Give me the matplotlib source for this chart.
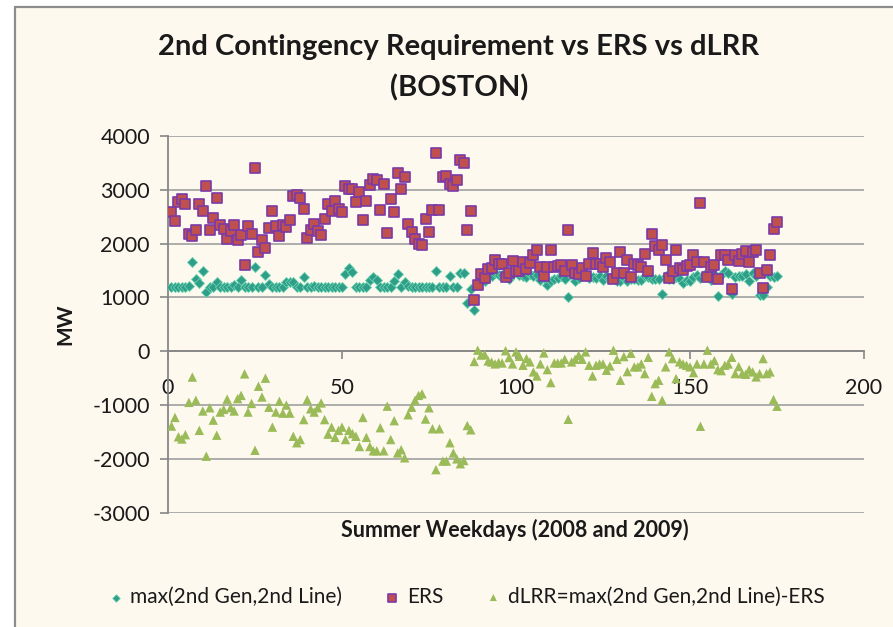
import matplotlib
matplotlib.use("Agg")
import matplotlib.pyplot as plt
import matplotlib.patches as patches
import numpy as np

# ── Data ─────────────────────────────────────────────────────────────────────
days = list(range(1, 176))

max_gen_line = [
    1200, 1200, 1200, 1200, 1200, 1210, 1650, 1340, 1260, 1490,
    1100, 1200, 1200, 1290, 1200, 1200, 1200, 1200, 1240, 1200,
    1330, 1200, 1200, 1200, 1560, 1200, 1200, 1410, 1250, 1200,
    1200, 1200, 1200, 1290, 1290, 1290, 1200, 1200, 1380, 1200,
    1200, 1220, 1200, 1200, 1200, 1200, 1200, 1200, 1200, 1200,
    1430, 1540, 1480, 1200, 1200, 1200, 1200, 1320, 1380, 1330,
    1200, 1200, 1200, 1200, 1300, 1430, 1200, 1290, 1220, 1200,
    1200, 1200, 1200, 1200, 1200, 1200, 1490, 1200, 1200, 1200,
    1400, 1200, 1200, 1460, 1450, 900, 1150, 760, 1250, 1340,
    1300, 1380, 1390, 1450, 1410, 1410, 1380, 1350, 1440, 1480,
    1410, 1400, 1380, 1440, 1400, 1420, 1330, 1360, 1230, 1300,
    1350, 1360, 1390, 1350, 1000, 1410, 1310, 1360, 1400, 1390,
    1370, 1380, 1370, 1390, 1330, 1390, 1370, 1360, 1310, 1310,
    1360, 1310, 1340, 1340, 1320, 1330, 1390, 1380, 1340, 1350,
    1340, 1060, 1400, 1350, 1350, 1380, 1350, 1270, 1320, 1310,
    1380, 1420, 1370, 1410, 1400, 1330, 1440, 1030, 1420, 1490,
    1450, 1060, 1380, 1390, 1400, 1440, 1310, 1460, 1400, 1050,
    1040, 1190, 1390, 1380, 1390,
]

ers = [
    2580, 2420, 2780, 2830, 2740, 2180, 2140, 2260, 2740, 2600,
    3070, 2250, 2470, 2850, 2350, 2270, 2080, 2240, 2350, 2060,
    2160, 1610, 2320, 2180, 3410, 1850, 2060, 1910, 2290, 2600,
    2320, 2140, 2340, 2310, 2430, 2880, 2910, 2850, 2640, 2100,
    2250, 2360, 2230, 2160, 2450, 2740, 2600, 2790, 2650, 2590,
    3070, 3010, 3010, 2780, 2960, 2440, 2790, 3090, 3210, 3190,
    2620, 3100, 2200, 2830, 2590, 3310, 3020, 3240, 2360, 2220,
    2090, 1990, 1980, 2450, 2220, 2620, 3690, 2620, 3230, 3250,
    3100, 3080, 3190, 3550, 3490, 2260, 2610, 950, 1240, 1430,
    1370, 1530, 1550, 1690, 1620, 1630, 1380, 1460, 1670, 1490,
    1500, 1650, 1520, 1640, 1790, 1880, 1570, 1390, 1570, 1880,
    1570, 1580, 1610, 1500, 2260, 1610, 1460, 1430, 1550, 1400,
    1630, 1830, 1630, 1630, 1570, 1740, 1650, 1340, 1460, 1850,
    1460, 1690, 1380, 1630, 1610, 1570, 1800, 1490, 2180, 1950,
    1880, 1970, 1690, 1360, 1490, 1880, 1550, 1510, 1580, 1600,
    1780, 1650, 2760, 1650, 1380, 1570, 1610, 1340, 1780, 1780,
    1690, 1160, 1790, 1670, 1810, 1870, 1650, 1850, 1880, 1460,
    1170, 1510, 1780, 2280, 2410,
]

dlrr = [
    -1390, -1230, -1590, -1630, -1550, -950, -480, -910, -1470, -1110,
    -1950, -1050, -1280, -1560, -1130, -1080, -890, -1050, -1110, -880,
    -820, -420, -1130, -970, -1840, -650, -850, -500, -1040, -1410,
    -1130, -930, -1150, -1000, -1150, -1580, -1700, -1640, -1270, -900,
    -1070, -1130, -1050, -960, -1270, -1540, -1410, -1600, -1470, -1410,
    -1640, -1470, -1530, -1580, -1770, -1230, -1600, -1770, -1850, -1850,
    -1420, -1850, -1020, -1640, -1290, -1890, -1830, -1980, -1180, -1040,
    -910, -820, -790, -1260, -1050, -1440, -2200, -1440, -2040, -2040,
    -1700, -1890, -2000, -2090, -2030, -1380, -1460, -190, 20, -70,
    -60, -180, -200, -235, -210, -217, 10, -117, -235, -12,
    -93, -260, -136, -198, -384, -459, -235, -31, -341, -582,
    -217, -217, -217, -149, -1264, -198, -149, -74, -149, -12,
    -260, -459, -260, -236, -236, -353, -273, 19, -149, -539,
    -99, -378, -37, -290, -290, -236, -415, -112, -837, -601,
    -539, -911, -290, -12, -136, -508, -198, -236, -260, -290,
    -397, -236, -1394, -236, 19, -236, -174, -341, -360, -260,
    -236, -112, -415, -285, -415, -428, -341, -384, -477, -415,
    -136, -415, -384, -898, -1022,
]

y_ticks = [-3000, -2000, -1000, 0, 1000, 2000, 3000, 4000]
x_ticks = [0, 50, 100, 150, 200]

# ── Style ────────────────────────────────────────────────────────────────────
BG = "#FEF9EF"
GRID = "#A6A6A6"
AXIS = "#868686"
TEXT = "#1A1A1A"
plt.rcParams["font.family"] = ["Lato", "DejaVu Sans"]
plt.rcParams["axes.unicode_minus"] = False

W, H = 893, 627
fig = plt.figure(figsize=(W / 100, H / 100), dpi=100)
fig.patch.set_facecolor("white")

# chart-area frame (Excel style)
frame = patches.Rectangle((15 / W, -0.05), 1.1, 1 - 7 / H + 0.05,
                          transform=fig.transFigure, facecolor=BG,
                          edgecolor="#8C8C8C", lw=1.6, zorder=-5)
fig.add_artist(frame)

ax = fig.add_axes([168 / W, 1 - 512.7 / H, (864 - 168) / W, (512.7 - 136) / H])
ax.set_zorder(2)
ax.set_facecolor(BG)

ax.scatter(days, max_gen_line, marker="D", s=26, color="#2E9E88",
           edgecolors="#6BD0B0", linewidths=0.6, zorder=3,
           label="max(2nd Gen,2nd Line)")
ax.scatter(days, ers, marker="s", s=48, color="#C0504D",
           edgecolors="#7A3AA8", linewidths=1.2, zorder=4, label="ERS")
ax.scatter(days, dlrr, marker="^", s=46, color="#9BBB59",
           edgecolors="none", zorder=3,
           label="dLRR=max(2nd Gen,2nd Line)-ERS")

ax.set_xlim(0, 200)
ax.set_ylim(-3000, 4000)
ax.set_xticks(x_ticks)
ax.set_yticks(y_ticks)
ax.yaxis.grid(True, color=GRID, lw=1.3)
ax.set_axisbelow(True)

for s in ("top", "right"):
    ax.spines[s].set_visible(False)
ax.spines["left"].set_color(AXIS)
ax.spines["left"].set_linewidth(1.3)
ax.spines["bottom"].set_position(("data", 0))
ax.spines["bottom"].set_color(AXIS)
ax.spines["bottom"].set_linewidth(1.3)

ax.tick_params(axis="y", length=6, width=1.2, color=AXIS, labelsize=15.5,
               labelcolor=TEXT, pad=7)
ax.tick_params(axis="x", length=6, width=1.2, color=AXIS, labelsize=15.5,
               labelcolor=TEXT, pad=13)

ax.set_ylabel("MW", fontsize=15, fontweight="bold", color=TEXT, labelpad=12)

fig.text(515 / W, 1 - 530 / H, "Summer Weekdays (2008 and 2009)",
         ha="center", va="center", fontsize=15.5, fontweight="bold", color=TEXT)

fig.text(459 / W, 1 - 47 / H, "2nd Contingency Requirement vs ERS vs dLRR",
         ha="center", va="center", fontsize=21, fontweight="bold", color=TEXT)
fig.text(459 / W, 1 - 88 / H, "(BOSTON)",
         ha="center", va="center", fontsize=21, fontweight="bold", color=TEXT)

fig.legend(loc="center", bbox_to_anchor=(464 / W, 1 - 597 / H), ncol=3,
           frameon=False, fontsize=15, markerscale=0.75, handletextpad=0.1,
           handlelength=1.2, columnspacing=1.8, labelcolor=TEXT)

fig.savefig("out.png", dpi=100, facecolor=fig.get_facecolor())
